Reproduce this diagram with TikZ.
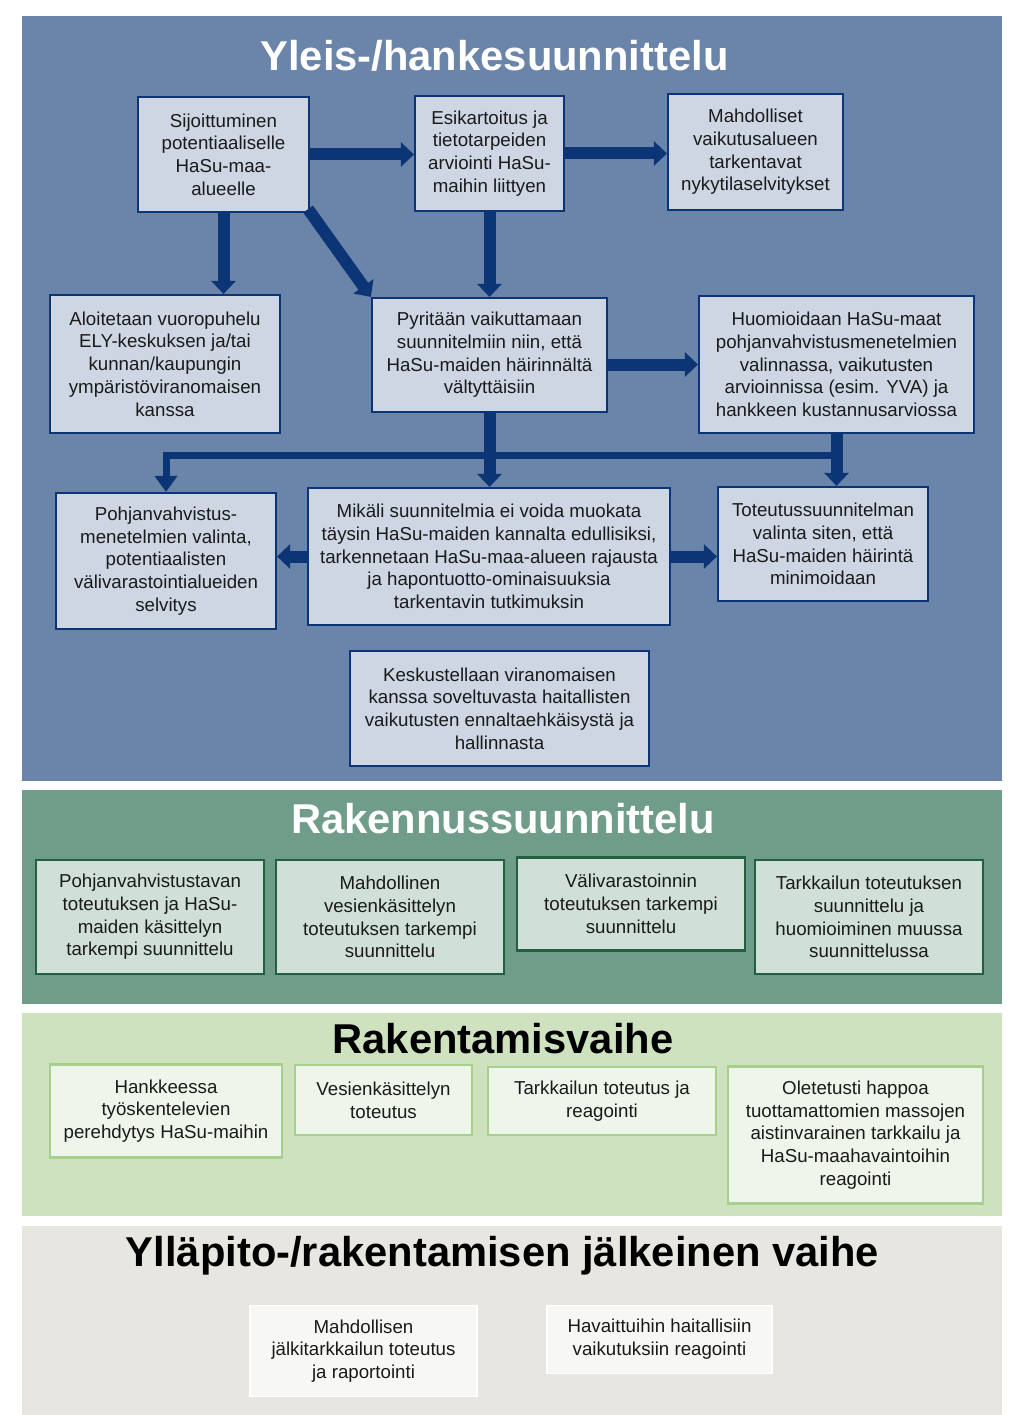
\documentclass[tikz,border=0pt]{standalone}
\usepackage{fontspec}
\setmainfont{Liberation Sans}
\usetikzlibrary{arrows.meta}
\definecolor{bluepanel}{HTML}{6A84AA}
\definecolor{bluebox}{HTML}{CED6E4}
\definecolor{navy}{HTML}{0B3574}
\definecolor{greenpanel}{HTML}{709D89}
\definecolor{greenbox}{HTML}{D0DFD7}
\definecolor{darkgreen}{HTML}{22603F}
\definecolor{lgpanel}{HTML}{CEE2BF}
\definecolor{lgbox}{HTML}{EEF5EA}
\definecolor{lgborder}{HTML}{A8D08D}
\definecolor{graypanel}{HTML}{E8E6E0}
\definecolor{graybox}{HTML}{F7F7F5}
\definecolor{txt}{HTML}{1A1A1A}
\tikzset{
  box/.style={rectangle, align=center, text=txt, font=\fontsize{18.7}{22.75}\selectfont, inner sep=3pt},
  bluebx/.style={box, fill=bluebox, draw=navy, line width=2.2pt},
  greenbx/.style={box, fill=greenbox, draw=darkgreen, line width=2.2pt},
  lgbx/.style={box, fill=lgbox, draw=lgborder, line width=2.2pt},
  graybx/.style={box, fill=graybox, draw=white, line width=1.5pt},
  blk/.style={draw=navy, line width=12pt, -{Triangle[width=24pt,length=13pt]}},
  thinblk/.style={draw=navy, line width=7pt, line join=miter, -{Triangle[width=22pt,length=16pt]}},
  title/.style={anchor=base, font=\fontsize{41.7}{50}\selectfont\bfseries},
}
\begin{document}
\begin{tikzpicture}[x=1pt,y=-1pt]
\useasboundingbox (0,0) rectangle (1010,1415);
\fill[white] (0,0) rectangle (1010,1415);
% panels
\fill[bluepanel] (22,16) rectangle (1002,781);
\fill[greenpanel] (22,790) rectangle (1002,1004);
\fill[lgpanel] (22,1013) rectangle (1002,1216);
\fill[graypanel] (22,1226) rectangle (1002,1415);
% titles
\node[title, text=white] (t1) at (494.5,71) {Yleis-/hankesuunnittelu};
\node[title, text=white] (t2) at (503,833) {Rakennussuunnittelu};
\node[title, text=black] (t3) at (503,1053) {Rakentamisvaihe};
\node[title, text=black] (t4) at (502.5,1266) {Ylläpito-/rakentamisen jälkeinen vaihe};
% blue boxes
\node[bluebx, minimum width=171pt, minimum height=115pt] (A) at (223.5,154.5) {Sijoittuminen\\potentiaaliselle\\HaSu-maa-\\alueelle};
\node[bluebx, minimum width=149pt, minimum height=115pt] (B) at (489.5,153.5) {Esikartoitus ja\\tietotarpeiden\\arviointi HaSu-\\maihin liittyen};
\node[bluebx, minimum width=175pt, minimum height=116pt] (C) at (755.5,152) {Mahdolliset\\vaikutusalueen\\tarkentavat\\nykytilaselvitykset};
\node[bluebx, minimum width=230pt, minimum height=138pt] (D) at (165,364) {Aloitetaan vuoropuhelu\\ELY-keskuksen ja/tai\\kunnan/kaupungin\\ympäristöviranomaisen\\kanssa};
\node[bluebx, minimum width=235pt, minimum height=114pt] (E) at (489.5,355) {Pyritään vaikuttamaan\\suunnitelmiin niin, että\\HaSu-maiden häirinnältä\\vältyttäisiin};
\node[bluebx, minimum width=275pt, minimum height=137pt] (F) at (836.5,364.5) {Huomioidaan HaSu-maat\\pohjanvahvistusmenetelmien\\valinnassa, vaikutusten\\arvioinnissa (esim. YVA) ja\\hankkeen kustannusarviossa};
\node[bluebx, minimum width=220pt, minimum height=136pt] (G) at (166,561) {Pohjanvahvistus-\\menetelmien valinta,\\potentiaalisten\\välivarastointialueiden\\selvitys};
\node[bluebx, minimum width=362pt, minimum height=137pt] (H) at (489,556.5) {Mikäli suunnitelmia ei voida muokata\\täysin HaSu-maiden kannalta edullisiksi,\\tarkennetaan HaSu-maa-alueen rajausta\\ja hapontuotto-ominaisuuksia\\tarkentavin tutkimuksin};
\node[bluebx, minimum width=210pt, minimum height=114pt] (I) at (823,544) {Toteutussuunnitelman\\valinta siten, että\\HaSu-maiden häirintä\\minimoidaan};
\node[bluebx, minimum width=299pt, minimum height=115pt] (J) at (499.5,708.5) {Keskustellaan viranomaisen\\kanssa soveltuvasta haitallisten\\vaikutusten ennaltaehkäisystä ja\\hallinnasta};
% connectors
\coordinate (bar) at (489.5,455);
\draw[thinblk] (F.south |- bar) -- (G.north |- bar) -- (G.north);
\draw[blk] (A.east) -- (A.east -| B.west);
\draw[blk] (B.east) -- (B.east -| C.west);
\draw[blk] (A.south) -- (A.south |- D.north);
\draw[blk] ([xshift=-2pt,yshift=4pt]A.south east) -- (E.north west);
\draw[blk] (B.south) -- (B.south |- E.north);
\draw[blk] (E.east |- F.west) -- (F.west);
\draw[blk] (E.south) -- (E.south |- H.north);
\draw[blk] (F.south) -- (F.south |- I.north);
\draw[blk] (H.west) -- (H.west -| G.east);
\draw[blk] (H.east) -- (H.east -| I.west);
% green boxes
\node[greenbx, minimum width=228pt, minimum height=114pt] (K1) at (150,917) {Pohjanvahvistustavan\\toteutuksen ja HaSu-\\maiden käsittelyn\\tarkempi suunnittelu};
\node[greenbx, minimum width=228pt, minimum height=114pt] (K2) at (390,917) {Mahdollinen\\vesienkäsittelyn\\toteutuksen tarkempi\\suunnittelu};
\node[greenbx, minimum width=228pt, minimum height=93pt] (K3) at (631,904) {Välivarastoinnin\\toteutuksen tarkempi\\suunnittelu};
\node[greenbx, minimum width=228pt, minimum height=114pt] (K4) at (869,917) {Tarkkailun toteutuksen\\suunnittelu ja\\huomioiminen muussa\\suunnittelussa};
% light green boxes
\node[lgbx, minimum width=232pt, minimum height=93pt] (L1) at (166,1111) {Hankkeessa\\työskentelevien\\perehdytys HaSu-maihin};
\node[lgbx, minimum width=177pt, minimum height=70pt] (L2) at (383.5,1100) {Vesienkäsittelyn\\toteutus};
\node[lgbx, minimum width=228pt, minimum height=68pt] (L3) at (602,1101) {Tarkkailun toteutus ja\\reagointi};
\node[lgbx, minimum width=255pt, minimum height=137pt] (L4) at (855.5,1135) {Oletetusti happoa\\tuottamattomien massojen\\aistinvarainen tarkkailu ja\\HaSu-maahavaintoihin\\reagointi};
% gray boxes
\node[graybx, minimum width=227pt, minimum height=91pt] (M1) at (363.5,1351) {Mahdollisen\\jälkitarkkailun toteutus\\ja raportointi};
\node[graybx, minimum width=225pt, minimum height=68pt] (M2) at (659.5,1339.5) {Havaittuihin haitallisiin\\vaikutuksiin reagointi};
\end{tikzpicture}
\end{document}
